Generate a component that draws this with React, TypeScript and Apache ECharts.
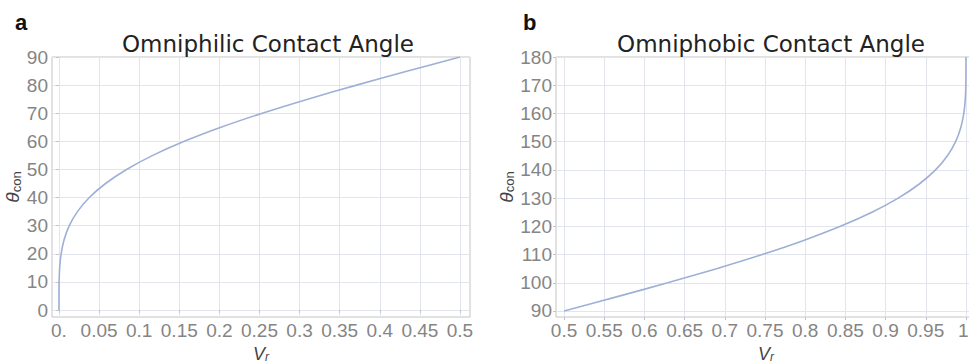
import React, { useEffect, useRef } from "react";
import * as echarts from "echarts";

// Omniphilic (panel a)
const philicVr = [0, 0.00001, 0.00017, 0.00086, 0.00267, 0.00638, 0.01286, 0.02305, 0.03785, 0.05806, 0.0843, 0.11699, 0.15625, 0.20191, 0.25349, 0.31022, 0.37108, 0.4348, 0.5];
const philicTheta = [0, 5, 10, 15, 20, 25, 30, 35, 40, 45, 50, 55, 60, 65, 70, 75, 80, 85, 90];
// Omniphobic (panel b)
const phobicVr = [0.5, 0.5652, 0.62892, 0.68978, 0.74651, 0.79809, 0.84375, 0.88301, 0.9157, 0.94194, 0.96215, 0.97695, 0.98714, 0.99362, 0.99733, 0.99914, 0.99983, 0.99999, 1];
const phobicTheta = [90, 95, 100, 105, 110, 115, 120, 125, 130, 135, 140, 145, 150, 155, 160, 165, 170, 175, 180];

const xTicksA = [0, 0.05, 0.1, 0.15, 0.2, 0.25, 0.3, 0.35, 0.4, 0.45, 0.5];
const xLabelsA = ["0.", "0.05", "0.1", "0.15", "0.2", "0.25", "0.3", "0.35", "0.4", "0.45", "0.5"];
const yTicksA = [0, 10, 20, 30, 40, 50, 60, 70, 80, 90];
const xTicksB = [0.5, 0.55, 0.6, 0.65, 0.7, 0.75, 0.8, 0.85, 0.9, 0.95, 1];
const xLabelsB = ["0.5", "0.55", "0.6", "0.65", "0.7", "0.75", "0.8", "0.85", "0.9", "0.95", "1."];
const yTicksB = [90, 100, 110, 120, 130, 140, 150, 160, 170, 180];

const titles = ["Omniphilic Contact Angle", "Omniphobic Contact Angle"];
const panelLetters = ["a", "b"];

const LABEL_COLOR = "#858585";
const GRID_COLOR = "#e3e5ee";
const FRAME_COLOR = "#c4c4c4";
const CURVE_COLOR = "#9fb0d6";

function lookup(ticks: number[], labels: string[]) {
  return (v: number) => {
    let best = 0;
    for (let i = 0; i < ticks.length; i++) {
      if (Math.abs(ticks[i] - v) < Math.abs(ticks[best] - v)) best = i;
    }
    return labels[best];
  };
}

export default function App() {
  const ref = useRef<HTMLDivElement>(null);
  useEffect(() => {
    if (!ref.current) return;
    const chart = echarts.init(ref.current, null, { renderer: "svg" });
    const tickFont = { fontFamily: "Liberation Sans", fontSize: 19, color: LABEL_COLOR };
    const xNameRich = {
      v: { fontFamily: "Liberation Sans", fontStyle: "italic", fontSize: 18, color: "#444", lineHeight: 18 },
      s: { fontFamily: "Liberation Sans", fontStyle: "italic", fontSize: 12, color: "#444", lineHeight: 18, padding: [6, 0, 0, 0] },
    };
    const yNameRich = {
      v: { fontFamily: "Liberation Sans", fontStyle: "italic", fontSize: 19, color: "#444", lineHeight: 19 },
      s: { fontFamily: "Liberation Sans", fontSize: 13, color: "#444", lineHeight: 19, padding: [7, 0, 0, 0] },
    };
    const mkX = (idx: number, min: number, max: number, ticks: number[], labels: string[]) => ({
      type: "value",
      gridIndex: idx,
      min,
      max,
      name: "{v|V}{s|r}",
      nameLocation: "middle",
      nameGap: 24,
      nameTextStyle: { rich: xNameRich },
      axisLine: { show: false },
      axisTick: { show: true, length: 3, customValues: ticks, lineStyle: { color: FRAME_COLOR } },
      axisLabel: { ...tickFont, margin: 4, customValues: ticks, formatter: lookup(ticks, labels), showMinLabel: true, showMaxLabel: true },
      splitLine: { show: true, lineStyle: { color: GRID_COLOR, width: 1 } },
    });
    const mkY = (idx: number, min: number, max: number, ticks: number[], gap: number) => ({
      type: "value",
      gridIndex: idx,
      min,
      max,
      name: "{v|θ}{s|con}",
      nameLocation: "middle",
      nameGap: gap,
      nameTextStyle: { rich: yNameRich },
      axisLine: { show: false },
      axisTick: { show: true, length: 3, customValues: ticks, lineStyle: { color: FRAME_COLOR } },
      axisLabel: { ...tickFont, margin: 4, customValues: ticks, formatter: (v: number) => String(Math.round(v)) },
      splitLine: { show: true, lineStyle: { color: GRID_COLOR, width: 1 } },
    });
    const titleStyle = { fontFamily: "DejaVu Sans", fontWeight: "normal", fontSize: 23, color: "#222" };
    chart.setOption({
      animation: false,
      backgroundColor: "#ffffff",
      title: [
        { text: titles[0], left: 263, top: 27, textAlign: "center", textStyle: titleStyle },
        { text: titles[1], left: 766, top: 27, textAlign: "center", textStyle: titleStyle },
        { text: panelLetters[0], left: 10, top: 6, textStyle: { fontFamily: "Liberation Sans", fontWeight: "bold", fontSize: 22, color: "#111" } },
        { text: panelLetters[1], left: 518, top: 6, textStyle: { fontFamily: "Liberation Sans", fontWeight: "bold", fontSize: 22, color: "#111" } },
      ],
      grid: [
        { left: 52, width: 418, top: 57, bottom: 46, outerBoundsMode: "none", containLabel: false, show: true, borderColor: FRAME_COLOR, borderWidth: 1, backgroundColor: "transparent" },
        { left: 556, width: 420, top: 57, bottom: 46, outerBoundsMode: "none", containLabel: false, show: true, borderColor: FRAME_COLOR, borderWidth: 1, backgroundColor: "transparent" },
      ],
      xAxis: [mkX(0, -0.0087, 0.5125, xTicksA, xLabelsA), mkX(1, 0.49, 1.0125, xTicksB, xLabelsB)],
      yAxis: [mkY(0, -2.49, 90, yTicksA, 22), mkY(1, 87.87, 180, yTicksB, 31)],
      series: [
        {
          type: "line",
          xAxisIndex: 0,
          yAxisIndex: 0,
          data: philicVr.map((v, i) => [v, philicTheta[i]]),
          showSymbol: false,
          smooth: 0.3,
          lineStyle: { color: CURVE_COLOR, width: 1.6 },
        },
        {
          type: "line",
          xAxisIndex: 1,
          yAxisIndex: 1,
          data: phobicVr.map((v, i) => [v, phobicTheta[i]]),
          showSymbol: false,
          smooth: 0.3,
          lineStyle: { color: CURVE_COLOR, width: 1.6 },
        },
      ],
    });
    return () => chart.dispose();
  }, []);
  return <div ref={ref} style={{ position: "absolute", left: 0, top: 0, width: 969, height: 363 }} />;
}
